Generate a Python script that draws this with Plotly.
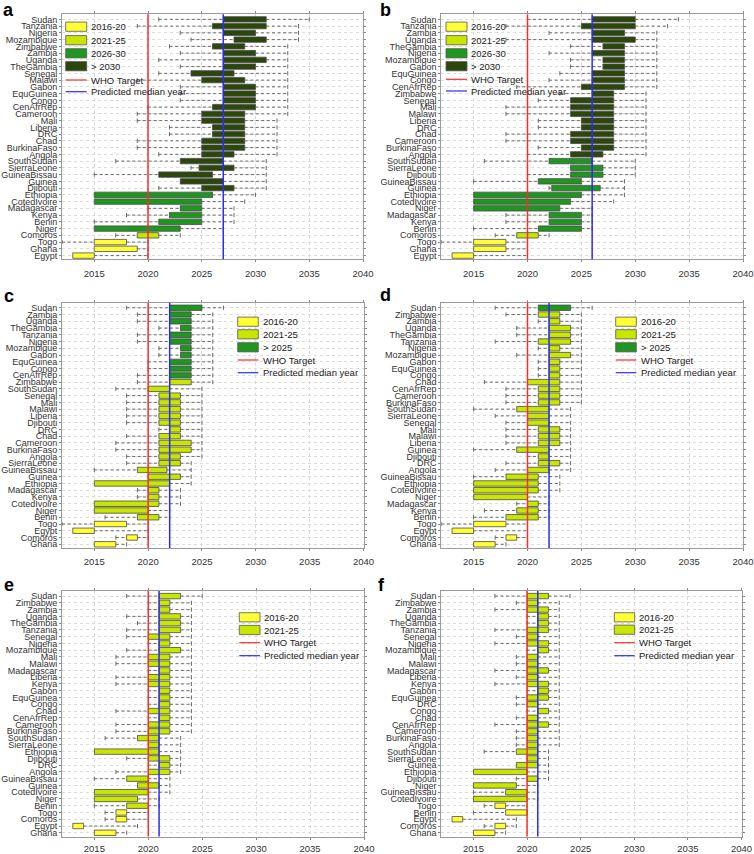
import plotly.graph_objects as go

W, H = 754, 854
X_RANGE = [2012, 2040]
x_ticks = [2015, 2020, 2025, 2030, 2035, 2040]
who_target = 2020

# ---------------- panel a ----------------
countries_a = ["Sudan", "Tanzania", "Nigeria", "Mozambique", "Zimbabwe", "Zambia", "Uganda", "TheGambia",
               "Senegal", "Malawi", "Gabon", "EquGuinea", "Congo", "CenAfrRep", "Cameroon", "Mali", "Liberia",
               "DRC", "Chad", "BurkinaFaso", "Angola", "SouthSudan", "SierraLeone", "GuineaBissau", "Guinea",
               "Djibouti", "Ethiopia", "CotedIvoire", "Madagascar", "Kenya", "Benin", "Niger", "Comoros",
               "Togo", "Ghana", "Egypt"]
wlo_a = [2021, 2019, 2023, 2024, 2022, 2023, 2021, 2023, 2021, 2019, 2023, 2023, 2023, 2020, 2019, 2019, 2022,
         2022, 2019, 2019, 2021, 2017, 2024, 2015, 2023, 2021, 2015, 2015, 2020, 2018, 2015, 2015, 2017, 2012,
         2015, 2013]
q1_a = [2027, 2026, 2027, 2028, 2026, 2027, 2027, 2027, 2024, 2025, 2027, 2027, 2027, 2026, 2025, 2025, 2026,
        2026, 2025, 2025, 2025, 2023, 2024.75, 2021, 2023, 2025, 2015, 2015, 2023, 2022, 2021, 2015, 2019, 2015,
        2015, 2013]
q3_a = [2031, 2031, 2030, 2031, 2029, 2030, 2031, 2030, 2028, 2029, 2030, 2030, 2030, 2030, 2029, 2029, 2029,
        2029, 2029, 2029, 2028, 2027, 2028, 2026, 2027, 2028, 2026, 2025, 2025, 2025, 2025, 2023, 2021, 2018,
        2019, 2015]
whi_a = [2035, 2034, 2034, 2034, 2033, 2033, 2033, 2033, 2033, 2033, 2033, 2033, 2033, 2033, 2033, 2032, 2032,
         2032, 2032, 2032, 2032, 2031, 2031, 2031, 2031, 2031, 2030, 2029, 2028, 2028, 2028, 2027, 2023, 2020,
         2020, 2020]
cat_a = ["D"] * 26 + ["G"] * 6 + ["L"] + ["Y"] * 3
median_a = 2027

# ---------------- panel b ----------------
countries_b = ["Sudan", "Tanzania", "Zambia", "Uganda", "TheGambia", "Nigeria", "Mozambique", "Gabon",
               "EquGuinea", "Congo", "CenAfrRep", "Zimbabwe", "Senegal", "Mali", "Malawi", "Liberia", "DRC",
               "Chad", "Cameroon", "BurkinaFaso", "Angola", "SouthSudan", "SierraLeone", "Djibouti",
               "GuineaBissau", "Guinea", "Ethiopia", "CotedIvoire", "Niger", "Madagascar", "Kenya", "Benin",
               "Comoros", "Togo", "Ghana", "Egypt"]
wlo_b = [2020, 2018, 2022, 2018, 2024, 2022, 2024, 2024, 2023, 2022, 2019, 2023, 2021, 2018, 2018, 2021, 2021,
         2018, 2018, 2021, 2020, 2016, 2024, 2020, 2015, 2022, 2015, 2015, 2015, 2018, 2018, 2015, 2017, 2012,
         2015, 2013]
q1_b = [2026, 2025, 2026, 2026, 2027, 2026, 2027, 2027, 2026, 2026, 2025, 2026, 2024, 2024, 2024, 2025, 2025,
        2024, 2024, 2025, 2024, 2022, 2024, 2024, 2021, 2022.25, 2015, 2015, 2015, 2022, 2022, 2021, 2019, 2015,
        2015, 2013]
q3_b = [2030, 2030, 2029, 2030, 2029, 2029, 2029, 2029, 2029, 2029, 2029, 2028, 2028, 2028, 2028, 2028, 2028,
        2028, 2028, 2028, 2027, 2026, 2027, 2027, 2025, 2026.75, 2025, 2024, 2023, 2025, 2025, 2025, 2021, 2018,
        2018, 2015]
whi_b = [2034, 2033, 2032, 2032, 2032, 2032, 2032, 2032, 2032, 2032, 2032, 2031, 2031, 2031, 2031, 2031, 2031,
         2031, 2031, 2031, 2031, 2030, 2030, 2030, 2029, 2029, 2029, 2028, 2026, 2026, 2026, 2026, 2022, 2020,
         2020, 2020]
cat_b = ["D"] * 21 + ["G"] * 11 + ["L"] + ["Y"] * 3
median_b = 2026

# ---------------- panel c ----------------
countries_c = ["Sudan", "Zambia", "Uganda", "TheGambia", "Tanzania", "Nigeria", "Mozambique", "Gabon",
               "EquGuinea", "Congo", "CenAfrRep", "Zimbabwe", "SouthSudan", "Senegal", "Mali", "Malawi",
               "Liberia", "Djibouti", "DRC", "Chad", "Cameroon", "BurkinaFaso", "Angola", "SierraLeone",
               "GuineaBissau", "Guinea", "Ethiopia", "Madagascar", "Kenya", "CotedIvoire", "Niger", "Benin",
               "Togo", "Egypt", "Comoros", "Ghana"]
wlo_c = [2018, 2019, 2019, 2021, 2019, 2019, 2021, 2021, 2020, 2020, 2019, 2019, 2017, 2018, 2018, 2018, 2018,
         2018, 2021, 2018, 2017, 2017, 2018, 2018, 2015, 2020, 2015, 2019, 2019, 2015, 2015, 2016, 2012, 2013,
         2017, 2015]
q1_c = [2022, 2022, 2022, 2023, 2022, 2022, 2023, 2023, 2022, 2022, 2022, 2022, 2020, 2021, 2021, 2021, 2021,
        2021, 2022, 2021, 2021, 2021, 2021, 2021, 2019, 2020, 2015, 2020, 2020, 2015, 2015, 2019, 2015, 2013,
        2018, 2015]
q3_c = [2025, 2024, 2024, 2024, 2024, 2024, 2024, 2024, 2024, 2024, 2024, 2024, 2022, 2023, 2023, 2023, 2023,
        2023, 2023, 2023, 2024, 2024, 2023, 2023, 2021.75, 2023, 2022, 2021, 2021, 2021, 2020, 2021, 2018, 2015,
        2019, 2017]
whi_c = [2027, 2026, 2026, 2026, 2026, 2026, 2026, 2026, 2026, 2026, 2026, 2026, 2025, 2025, 2025, 2025, 2025,
         2025, 2025, 2025, 2025, 2025, 2025, 2024, 2024, 2024, 2024, 2023, 2023, 2023, 2022, 2022, 2020, 2020,
         2020, 2018]
cat_c = ["G"] * 11 + ["L"] * 21 + ["Y"] * 4
median_c = 2022

# ---------------- panel d ----------------
countries_d = ["Sudan", "Zimbabwe", "Zambia", "Uganda", "TheGambia", "Tanzania", "Nigeria", "Mozambique",
               "Gabon", "EquGuinea", "Congo", "Chad", "CenAfrRep", "Cameroon", "BurkinaFaso", "SouthSudan",
               "SierraLeone", "Senegal", "Mali", "Malawi", "Liberia", "Guinea", "Djibouti", "DRC", "Angola",
               "GuineaBissau", "Ethiopia", "CotedIvoire", "Niger", "Madagascar", "Kenya", "Benin", "Togo",
               "Egypt", "Comoros", "Ghana"]
wlo_d = [2017, 2018, 2021, 2019, 2019, 2017, 2021, 2019, 2021, 2021, 2021, 2016, 2018, 2018, 2018, 2015, 2017,
         2018, 2018, 2018, 2018, 2015, 2020, 2018, 2017, 2015, 2015, 2015, 2015, 2019, 2016, 2015, 2012, 2013,
         2017, 2015]
q1_d = [2021, 2021, 2022, 2022, 2022, 2021, 2022, 2022, 2022, 2022, 2022, 2020, 2021, 2021, 2021, 2019, 2020,
        2020, 2021, 2021, 2021, 2019, 2021, 2021, 2020, 2018, 2015, 2015, 2015, 2020, 2019, 2018, 2015, 2013,
        2018, 2015]
q3_d = [2024, 2023, 2023, 2024, 2024, 2024, 2023, 2024, 2023, 2023, 2023, 2023, 2023, 2023, 2023, 2022, 2022,
        2022, 2023, 2023, 2023, 2022, 2022, 2023, 2022, 2021, 2021, 2021, 2020, 2021, 2021, 2021, 2018, 2015,
        2019, 2017]
whi_d = [2026, 2025, 2025, 2025, 2025, 2025, 2025, 2025, 2025, 2025, 2025, 2025, 2025, 2025, 2025, 2024, 2024,
         2024, 2024, 2024, 2024, 2024, 2024, 2024, 2024, 2023, 2023, 2023, 2022, 2022, 2022, 2022, 2020, 2020,
         2020, 2018]
cat_d = ["G"] + ["L"] * 31 + ["Y"] * 4
median_d = 2022

# ---------------- panel e ----------------
countries_e = ["Sudan", "Zimbabwe", "Zambia", "Uganda", "TheGambia", "Tanzania", "Senegal", "Nigeria",
               "Mozambique", "Mali", "Malawi", "Madagascar", "Liberia", "Kenya", "Gabon", "EquGuinea", "Congo",
               "Chad", "CenAfrRep", "Cameroon", "BurkinaFaso", "SouthSudan", "SierraLeone", "Ethiopia",
               "Djibouti", "DRC", "Angola", "GuineaBissau", "Guinea", "CotedIvoire", "Niger", "Benin", "Togo",
               "Comoros", "Egypt", "Ghana"]
wlo_e = [2018, 2020, 2020, 2018, 2019, 2018, 2018, 2020, 2018, 2017, 2017, 2020, 2017, 2017, 2020, 2020, 2020,
         2017, 2020, 2017, 2017, 2016, 2020, 2015, 2018, 2020, 2017, 2015, 2019, 2015, 2015, 2015, 2016, 2016,
         2013, 2015]
q1_e = [2021, 2021, 2021, 2021, 2021, 2021, 2020, 2021, 2021, 2020, 2020, 2021, 2020, 2020, 2021, 2021, 2021,
        2020, 2021, 2020, 2020, 2019, 2020, 2015, 2020, 2021, 2020, 2018, 2019, 2015, 2015, 2018, 2017, 2017,
        2013, 2015]
q3_e = [2023, 2022, 2022, 2023, 2023, 2023, 2022, 2022, 2023, 2022, 2022, 2022, 2022, 2022, 2022, 2022, 2022,
        2022, 2022, 2022, 2022, 2021, 2021, 2021, 2022, 2022, 2022, 2020, 2021, 2020, 2019, 2020, 2018, 2018,
        2014, 2017]
whi_e = [2025, 2024, 2024, 2024, 2024, 2024, 2024, 2024, 2024, 2024, 2024, 2024, 2024, 2024, 2024, 2024, 2024,
         2024, 2024, 2024, 2024, 2023, 2023, 2023, 2023, 2023, 2023, 2022, 2022, 2022, 2021, 2021, 2020, 2020,
         2019, 2018]
cat_e = ["L"] * 32 + ["Y"] * 4
median_e = 2021

# ---------------- panel f ----------------
countries_f = ["Sudan", "Zimbabwe", "Zambia", "Uganda", "TheGambia", "Tanzania", "Senegal", "Nigeria",
               "Mozambique", "Mali", "Malawi", "Madagascar", "Liberia", "Kenya", "Gabon", "EquGuinea", "DRC",
               "Congo", "Chad", "CenAfrRep", "Cameroon", "BurkinaFaso", "Angola", "SouthSudan", "SierraLeone",
               "Guinea", "Ethiopia", "Djibouti", "Niger", "GuineaBissau", "CotedIvoire", "Togo", "Benin",
               "Egypt", "Comoros", "Ghana"]
wlo_f = [2017, 2019, 2017, 2020, 2020, 2017, 2019, 2017, 2020, 2019, 2019, 2017, 2019, 2017, 2020, 2019, 2019,
         2020, 2019, 2017, 2019, 2019, 2019, 2016, 2020, 2019, 2015, 2019, 2015, 2015, 2015, 2016, 2015, 2013,
         2016, 2015]
q1_f = [2020, 2020, 2020, 2021, 2021, 2020, 2020, 2020, 2021, 2020, 2020, 2020, 2020, 2020, 2021, 2020, 2020,
        2021, 2020, 2020, 2020, 2020, 2020, 2019, 2020, 2019, 2015, 2020, 2015, 2018, 2015, 2017, 2018, 2013,
        2017, 2015]
q3_f = [2022, 2021, 2022, 2022, 2022, 2022, 2021, 2022, 2022, 2021, 2021, 2022, 2021, 2022, 2022, 2022, 2021,
        2022, 2021, 2022, 2021, 2021, 2021, 2021, 2021, 2021, 2020, 2021, 2019, 2020, 2020, 2018, 2020, 2014,
        2018, 2017]
whi_f = [2024, 2023, 2023, 2023, 2023, 2023, 2023, 2023, 2023, 2023, 2023, 2023, 2023, 2023, 2023, 2023, 2023,
         2023, 2023, 2023, 2023, 2023, 2023, 2022, 2022, 2022, 2022, 2022, 2021, 2021, 2021, 2020, 2020, 2019,
         2019, 2018]
cat_f = ["L"] * 31 + ["Y"] * 5
median_f = 2021

legend_ab = ["2016-20", "2021-25", "2026-30", "> 2030"]
legend_cd = ["2016-20", "2021-25", "> 2025"]
legend_ef = ["2016-20", "2021-25"]
legend_lines = ["WHO Target", "Predicted median year"]

COLORS = {"Y": "#ffff33", "L": "#c8e600", "G": "#1f961f", "D": "#2c470c"}
legend_cat_ab = ["Y", "L", "G", "D"]
legend_cat_cd = ["Y", "L", "G"]
legend_cat_ef = ["Y", "L"]

panels = [
    dict(letter="a", countries=countries_a, wlo=wlo_a, q1=q1_a, q3=q3_a, whi=whi_a, cat=cat_a, med=median_a,
         dom=(62, 363, 14.3, 259.3), leg=legend_ab, legcat=legend_cat_ab, so=3,
         leg_x=(65.7, 86.7, 88.5), leg_y=[26.7, 40.2, 53.3, 66.2], line_y=[80, 91.7], letter_xy=(8.5, 10)),
    dict(letter="b", countries=countries_b, wlo=wlo_b, q1=q1_b, q3=q3_b, whi=whi_b, cat=cat_b, med=median_b,
         dom=(441.3, 743, 14.3, 259.3), leg=legend_ab, legcat=legend_cat_ab, so=3,
         leg_x=(446, 467, 468.8), leg_y=[26.7, 40.2, 53.3, 66.2], line_y=[79.3, 91], letter_xy=(385, 10)),
    dict(letter="c", countries=countries_c, wlo=wlo_c, q1=q1_c, q3=q3_c, whi=whi_c, cat=cat_c, med=median_c,
         dom=(62, 363.5, 302.7, 548), leg=legend_cd, legcat=legend_cat_cd, so=3,
         leg_x=(237.7, 258.3, 260.7), leg_y=[321.7, 334.3, 347.3], line_y=[360, 372.7], letter_xy=(8.5, 296)),
    dict(letter="d", countries=countries_d, wlo=wlo_d, q1=q1_d, q3=q3_d, whi=whi_d, cat=cat_d, med=median_d,
         dom=(441.3, 743, 302.7, 548), leg=legend_cd, legcat=legend_cat_cd, so=3,
         leg_x=(615.7, 636.3, 638.7), leg_y=[321.7, 334.3, 347.3], line_y=[360, 372.7], letter_xy=(385, 295)),
    dict(letter="e", countries=countries_e, wlo=wlo_e, q1=q1_e, q3=q3_e, whi=whi_e, cat=cat_e, med=median_e,
         dom=(62, 364, 591, 836.5), leg=legend_ef, legcat=legend_cat_ef, so=1,
         leg_x=(239.3, 260, 262.3), leg_y=[617.3, 630], line_y=[642.7, 655.7], letter_xy=(8.5, 585)),
    dict(letter="f", countries=countries_f, wlo=wlo_f, q1=q1_f, q3=q3_f, whi=whi_f, cat=cat_f, med=median_f,
         dom=(441.3, 741.5, 591, 836.5), leg=legend_ef, legcat=legend_cat_ef, so=1,
         leg_x=(614.3, 634.7, 637), leg_y=[617.3, 629.7], line_y=[642.7, 655.7], letter_xy=(382, 585)),
]


def px_x(p):
    return p / W


def px_y(p):
    return 1 - p / H


FONT = "Liberation Sans, Arial, sans-serif"
fig = go.Figure()
shapes = []
annotations = []
layout_axes = {}

for i, p in enumerate(panels):
    k = "" if i == 0 else str(i + 1)
    xa, ya = "x" + k, "y" + k
    n = len(p["countries"])
    ys = [n - 1 - j for j in range(n)]

    # whiskers (dashed)
    wx, wy = [], []
    cx, cy = [], []
    for j in range(n):
        if p["wlo"][j] < p["q1"][j]:
            wx += [p["wlo"][j], p["q1"][j], None]
            wy += [ys[j], ys[j], None]
            cx.append(p["wlo"][j]); cy.append(ys[j])
        if p["whi"][j] > p["q3"][j]:
            wx += [p["q3"][j], p["whi"][j], None]
            wy += [ys[j], ys[j], None]
            cx.append(p["whi"][j]); cy.append(ys[j])
    fig.add_trace(go.Scatter(x=wx, y=wy, mode="lines", xaxis=xa, yaxis=ya, showlegend=False,
                             line=dict(color="#6a6a6a", width=1, dash="3px,2.5px"), hoverinfo="skip"))
    fig.add_trace(go.Scatter(x=cx, y=cy, mode="markers", xaxis=xa, yaxis=ya, showlegend=False,
                             marker=dict(symbol="line-ns", size=3, line=dict(color="#6a6a6a", width=1)),
                             hoverinfo="skip"))
    # boxes
    fig.add_trace(go.Bar(orientation="h", y=ys, base=p["q1"],
                         x=[b - a for a, b in zip(p["q1"], p["q3"])],
                         width=0.8, xaxis=xa, yaxis=ya, showlegend=False,
                         marker=dict(color=[COLORS[c] for c in p["cat"]],
                                     line=dict(color="#4a4a4a", width=0.8))))

    x0, x1, y0, y1 = p["dom"]
    layout_axes["xaxis" + k] = dict(
        domain=[px_x(x0), px_x(x1)], anchor=ya, range=X_RANGE, tickvals=x_ticks,
        ticktext=[str(t) for t in x_ticks], ticks="outside", ticklen=2, tickcolor="#888",
        showline=True, linecolor="#9a9a9a", linewidth=1, mirror="ticks", ticklabelstandoff=p["so"],
        showgrid=True, gridcolor="#d9d9d9", griddash="dot", gridwidth=1, zeroline=False,
        tickfont=dict(family=FONT, size=9.5, color="#333"), automargin=False, fixedrange=True)
    layout_axes["yaxis" + k] = dict(
        domain=[px_y(y1), px_y(y0)], anchor=xa, range=[-0.55, n - 0.25],
        tickvals=ys, ticktext=p["countries"], ticks="outside", ticklen=2, tickcolor="#888",
        showline=True, linecolor="#9a9a9a", linewidth=1, mirror="ticks",
        showgrid=True, gridcolor="#dcdcdc", griddash="dot", gridwidth=1, zeroline=False,
        tickfont=dict(family=FONT, size=9, color="#333"), automargin=False, fixedrange=True)

    # reference lines
    shapes.append(dict(type="line", xref=xa, yref=ya + " domain", x0=who_target, x1=who_target, y0=0, y1=1,
                       line=dict(color="#ff2a2a", width=1.5), layer="above"))
    shapes.append(dict(type="line", xref=xa, yref=ya + " domain", x0=p["med"], x1=p["med"], y0=0, y1=1,
                       line=dict(color="#2a2aff", width=1.5), layer="above"))

    # legend
    lx0, lx1, tx = p["leg_x"]
    for lab, c, yy in zip(p["leg"], p["legcat"], p["leg_y"]):
        shapes.append(dict(type="rect", xref="paper", yref="paper", x0=px_x(lx0), x1=px_x(lx1),
                           y0=px_y(yy + 4.6), y1=px_y(yy - 4.6), fillcolor=COLORS[c],
                           line=dict(color="#555", width=0.8), layer="above"))
        annotations.append(dict(x=px_x(tx), y=px_y(yy), xref="paper", yref="paper", text=lab,
                                showarrow=False, xanchor="left", yanchor="middle",
                                font=dict(family=FONT, size=9.5, color="#222")))
    for lab, col, yy in zip(legend_lines, ["#ff2a2a", "#2a2aff"], p["line_y"]):
        shapes.append(dict(type="line", xref="paper", yref="paper", x0=px_x(lx0), x1=px_x(lx1),
                           y0=px_y(yy), y1=px_y(yy), line=dict(color=col, width=1.2), layer="above"))
        annotations.append(dict(x=px_x(tx), y=px_y(yy), xref="paper", yref="paper", text=lab,
                                showarrow=False, xanchor="left", yanchor="middle",
                                font=dict(family=FONT, size=9.5, color="#222")))
    # panel letter
    lxp, lyp = p["letter_xy"]
    annotations.append(dict(x=px_x(lxp), y=px_y(lyp), xref="paper", yref="paper", text="<b>%s</b>" % p["letter"],
                            showarrow=False, xanchor="center", yanchor="middle",
                            font=dict(family=FONT, size=18, color="#000")))

fig.update_layout(
    width=W, height=H, margin=dict(l=0, r=0, t=0, b=0), template="none",
    paper_bgcolor="white", plot_bgcolor="white", barmode="overlay", showlegend=False,
    shapes=shapes, annotations=annotations, **layout_axes)

fig.write_html("out.html", config={"displayModeBar": False},
               post_script="document.body.style.margin='0';document.body.style.overflow='hidden';")
